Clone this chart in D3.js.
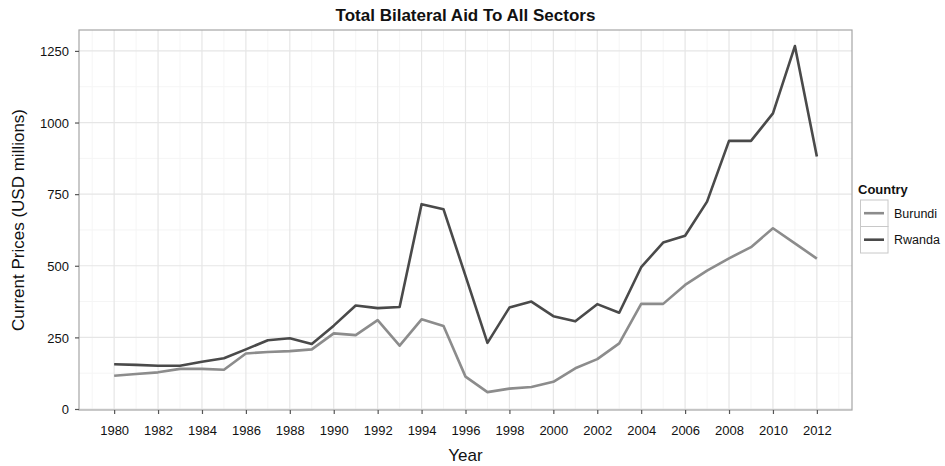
<!DOCTYPE html>
<html><head><meta charset="utf-8">
<script src="https://d3js.org/d3.v7.min.js"></script>
<style>body{margin:0;background:#fff}svg{display:block;font-family:"Liberation Sans",Arial,Helvetica,sans-serif}</style>
</head><body><svg id="c" width="945" height="466"></svg>
<script>
const years = d3.range(1980, 2013);
const burundi = [116,122,128,140,140,137,194,199,202,208,264,258,310,221,313,290,113,59,71,77,95,142,174,229,367,367,433,483,526,565,631,578,525];
const rwanda  = [156,154,151,151,165,177,208,240,247,227,291,361,352,356,715,697,465,231,354,375,324,306,366,336,495,581,605,724,936,936,1032,1267,881];
const seriesNames = ["Burundi","Rwanda"];
const seriesColors = ["#8c8c8c","#4a4a4a"];
const yTicks = [0,250,500,750,1000,1250];
const xTicks = d3.range(1980, 2013, 2);

const svg = d3.select("#c");
const L=79, R=852, T=30, B=410;
const x = d3.scaleLinear().domain([1978.4, 2013.6]).range([L, R]);
const y = d3.scaleLinear().domain([-3.5, 1323]).range([B, T]);

svg.append("rect").attr("x",L).attr("y",T).attr("width",R-L).attr("height",B-T).attr("fill","#fff");
const xMinor = d3.range(1979, 2014, 2);
const yMinor = [125,375,625,875,1125];
svg.append("g").selectAll("line").data(xMinor).join("line")
  .attr("x1",d=>x(d)).attr("x2",d=>x(d)).attr("y1",T).attr("y2",B)
  .attr("stroke","#f5f5f5").attr("stroke-width",1);
svg.append("g").selectAll("line").data(yMinor).join("line")
  .attr("y1",d=>y(d)).attr("y2",d=>y(d)).attr("x1",L).attr("x2",R)
  .attr("stroke","#f5f5f5").attr("stroke-width",1);
svg.append("g").selectAll("line").data(xTicks).join("line")
  .attr("x1",d=>x(d)).attr("x2",d=>x(d)).attr("y1",T).attr("y2",B)
  .attr("stroke","#e6e6e6").attr("stroke-width",1.2);
svg.append("g").selectAll("line").data(yTicks).join("line")
  .attr("y1",d=>y(d)).attr("y2",d=>y(d)).attr("x1",L).attr("x2",R)
  .attr("stroke","#e6e6e6").attr("stroke-width",1.2);

const line = d3.line().x((d,i)=>x(years[i])).y(d=>y(d));
[burundi, rwanda].forEach((s,k)=>{
  svg.append("path").datum(s).attr("d",line).attr("fill","none")
    .attr("stroke",seriesColors[k]).attr("stroke-width",2.6).attr("stroke-linejoin","round");
});

svg.append("rect").attr("x",L).attr("y",T).attr("width",R-L).attr("height",B-T)
  .attr("fill","none").attr("stroke","#a6a6a6").attr("stroke-width",1.2);

const xAxis = svg.append("g").attr("transform",`translate(0,${B})`)
  .call(d3.axisBottom(x).tickValues(xTicks).tickFormat(d3.format("d")).tickSize(4).tickSizeOuter(0));
const yAxis = svg.append("g").attr("transform",`translate(${L},0)`)
  .call(d3.axisLeft(y).tickValues(yTicks).tickFormat(d3.format("d")).tickSize(4).tickSizeOuter(0));
[xAxis,yAxis].forEach(g=>{
  g.select(".domain").remove();
  g.selectAll(".tick line").attr("stroke","#555").attr("stroke-width",1.2);
  g.selectAll("text").attr("fill","#111").style("font-size","13px").style("font-family",'"Liberation Sans",Arial,sans-serif');
});
xAxis.selectAll("text").attr("dy","0").attr("y",25);
yAxis.selectAll("text").attr("x",-10).attr("dy","0.36em");

svg.append("text").attr("x",(L+R)/2).attr("y",21).attr("text-anchor","middle")
  .style("font-size","17px").style("font-weight","bold").attr("fill","#111")
  .text("Total Bilateral Aid To All Sectors");
svg.append("text").attr("x",(L+R)/2).attr("y",461).attr("text-anchor","middle")
  .style("font-size","17px").attr("fill","#111").text("Year");
svg.append("text").attr("transform",`translate(24,${(T+B)/2}) rotate(-90)`).attr("text-anchor","middle")
  .style("font-size","17px").attr("fill","#111").text("Current Prices (USD millions)");

const lg = svg.append("g").attr("transform","translate(860,0)");
lg.append("text").attr("x",-2).attr("y",194).style("font-size","13px").style("font-weight","bold")
  .attr("fill","#111").text("Country");
seriesNames.forEach((n,i)=>{
  const y0 = 200 + i*26.5;
  lg.append("rect").attr("x",0.5).attr("y",y0).attr("width",27.5).attr("height",26.5)
    .attr("fill","#fff").attr("stroke","#c8c8c8").attr("stroke-width",1);
  lg.append("line").attr("x1",4).attr("x2",24).attr("y1",y0+13.2).attr("y2",y0+13.2)
    .attr("stroke",seriesColors[i]).attr("stroke-width",2.6);
  lg.append("text").attr("x",34).attr("y",y0+17.5).style("font-size","12.5px")
    .attr("fill","#111").text(n);
});
</script></body></html>
